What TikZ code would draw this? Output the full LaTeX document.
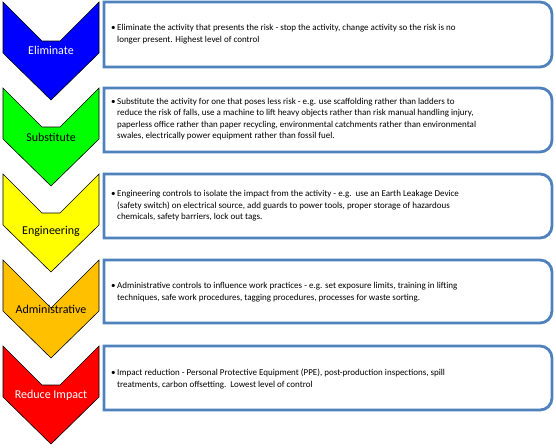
\documentclass[tikz,border=0pt]{standalone}
\usepackage{fontspec}
\setmainfont{Carlito}
\usepackage{tikz}

\definecolor{boxblue}{RGB}{79,129,189}
\definecolor{chblue}{RGB}{0,0,255}
\definecolor{chgreen}{RGB}{0,255,0}
\definecolor{chyellow}{RGB}{255,255,0}
\definecolor{chorange}{RGB}{255,192,0}
\definecolor{chred}{RGB}{255,0,0}

\begin{document}
\begin{tikzpicture}[x=1pt, y=-1pt]
        \useasboundingbox (0,0) rectangle (556,447);

        % chevrons
        \draw[fill=chblue, line width=0.6pt] (3,2) -- (42,41) -- (60,41) -- (99,2) -- (99,53) -- (51,100) -- (3,53) -- cycle;
        \draw[fill=chgreen, line width=0.6pt] (3,88) -- (42,127) -- (60,127) -- (99,88) -- (99,139) -- (51,186) -- (3,139) -- cycle;
        \draw[fill=chyellow, line width=0.6pt] (3,174) -- (42,213) -- (60,213) -- (99,174) -- (99,225) -- (51,272) -- (3,225) -- cycle;
        \draw[fill=chorange, line width=0.6pt] (3,260) -- (51,308) -- (99,260) -- (99,311) -- (51,358) -- (3,311) -- cycle;
        \draw[fill=chred, line width=0.6pt] (3,346) -- (42,385) -- (60,385) -- (99,346) -- (99,397) -- (51,444) -- (3,397) -- cycle;

        \node[white, font=\fontsize{12}{14}\selectfont] at (51,50) (elim) {Eliminate};
        \node[black, font=\fontsize{12}{14}\selectfont] at (51,137) (subst) {Substitute};
        \node[black, font=\fontsize{12}{14}\selectfont] at (51,231) (eng) {Engineering};
        \node[black, font=\fontsize{12}{14}\selectfont] at (51,309) (admin) {Administrative};
        \node[white, font=\fontsize{12}{14}\selectfont] at (51,395) (reduce) {Reduce Impact};

        % text boxes
        \draw[boxblue, fill=white, line width=2.8pt] (104,2) -- (540,2) arc (-90:0:12) -- (552,55) arc (0:90:12) -- (104,67) -- cycle;
        \draw[boxblue, fill=white, line width=2.8pt] (104,88) -- (540,88) arc (-90:0:12) -- (552,140) arc (0:90:12) -- (104,152) -- cycle;
        \draw[boxblue, fill=white, line width=2.8pt] (104,174) -- (540,174) arc (-90:0:12) -- (552,226) arc (0:90:12) -- (104,238) -- cycle;
        \draw[boxblue, fill=white, line width=2.8pt] (104,260) -- (540,260) arc (-90:0:12) -- (552,311) arc (0:90:12) -- (104,323) -- cycle;
        \draw[boxblue, fill=white, line width=2.8pt] (104,346) -- (540,346) arc (-90:0:12) -- (552,398) arc (0:90:12) -- (104,410) -- cycle;

        \node[anchor=west, inner sep=0pt, align=left, font=\fontsize{9}{12.5}\selectfont] at (117,34) (elimtxt)
            {\llap{\textbullet\,}Eliminate the activity that presents the risk - stop the activity, change activity so the risk is no\\
             longer present. Highest level of control};
        \node[anchor=west, inner sep=0pt, align=left, font=\fontsize{9}{11.4}\selectfont] at (117,119) (substtxt)
            {\llap{\textbullet\,}Substitute the activity for one that poses less risk - e.g. use scaffolding rather than ladders to\\
             reduce the risk of falls, use a machine to lift heavy objects rather than risk manual handling injury,\\
             paperless office rather than paper recycling, environmental catchments rather than environmental\\
             swales, electrically power equipment rather than fossil fuel.};
        \node[anchor=west, inner sep=0pt, align=left, font=\fontsize{9}{11.5}\selectfont] at (117,206) (engtxt)
            {\llap{\textbullet\,}Engineering controls to isolate the impact from the activity - e.g.\ \ use an Earth Leakage Device\\
             (safety switch) on electrical source, add guards to power tools, proper storage of hazardous\\
             chemicals, safety barriers, lock out tags.};
        \node[anchor=west, inner sep=0pt, align=left, font=\fontsize{9}{12.5}\selectfont] at (117,292) (admintxt)
            {\llap{\textbullet\,}Administrative controls to influence work practices - e.g. set exposure limits, training in lifting\\
             techniques, safe work procedures, tagging procedures, processes for waste sorting.};
        \node[anchor=west, inner sep=0pt, align=left, font=\fontsize{9}{11.5}\selectfont] at (117,379) (reducetxt)
            {\llap{\textbullet\,}Impact reduction - Personal Protective Equipment (PPE), post-production inspections, spill\\
             treatments, carbon offsetting.\ \ Lowest level of control};
    \end{tikzpicture}
\end{document}
